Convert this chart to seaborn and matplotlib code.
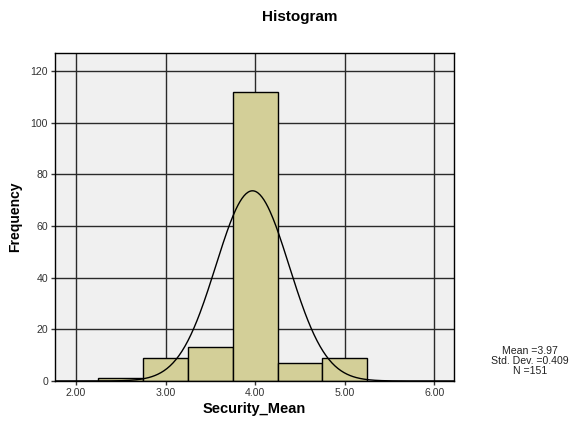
import numpy as np
import pandas as pd
import matplotlib
matplotlib.use("Agg")
import matplotlib.pyplot as plt
import seaborn as sns

# Binned frequencies of Security_Mean
bin_edges = [2.25, 2.75, 3.25, 3.75, 4.25, 4.75, 5.25]
bin_centers = [2.5, 3.0, 3.5, 4.0, 4.5, 5.0]
counts = [1, 9, 13, 112, 7, 9]
x_ticks = [2.0, 3.0, 4.0, 5.0, 6.0]
x_tick_labels = ["2.00", "3.00", "4.00", "5.00", "6.00"]
y_ticks = [0, 20, 40, 60, 80, 100, 120]
mean_val = 3.97
std_val = 0.409
n_val = 151

sns.set_theme(style="white")
plt.rcParams["font.family"] = ["Liberation Sans", "DejaVu Sans"]
plt.rcParams["text.color"] = "black"
plt.rcParams["axes.labelcolor"] = "black"

fig = plt.figure(figsize=(5.71, 4.21), dpi=100)
ax = fig.add_axes([55 / 571, 1 - 381 / 421, (454 - 55) / 571, (381 - 53) / 421])
ax.set_facecolor("#F0F0F0")

df = pd.DataFrame({"value": bin_centers, "count": counts})
sns.histplot(data=df, x="value", weights="count", bins=bin_edges, ax=ax,
             color="#D3CF98", edgecolor="black", linewidth=1.0, alpha=1,
             zorder=3)

# Normal curve scaled to the histogram
xs = np.linspace(1.765, 6.22, 400)
bw = bin_edges[1] - bin_edges[0]
ys = n_val * bw / (std_val * np.sqrt(2 * np.pi)) * np.exp(-0.5 * ((xs - mean_val) / std_val) ** 2)
sns.lineplot(x=xs, y=ys, ax=ax, color="black", linewidth=1.0, zorder=4)

ax.set_xlim(1.765, 6.22)
ax.set_ylim(0, 127)
ax.set_xticks(x_ticks)
ax.set_xticklabels(x_tick_labels)
ax.set_yticks(y_ticks)
ax.grid(True, color="#2a2a2a", linewidth=1.0, zorder=1)
ax.set_axisbelow(True)
for s in ax.spines.values():
    s.set_color("black")
    s.set_linewidth(1.0)
    s.set_zorder(5)
ax.tick_params(axis="both", which="both", direction="out", length=3, width=1,
               color="#333333", labelsize=7.6, labelcolor="#333333", pad=2,
               left=True, bottom=True)

ax.set_xlabel("Security_Mean", fontsize=10.5, fontweight="bold", labelpad=3)
ax.set_ylabel("Frequency", fontsize=10, fontweight="bold", labelpad=6)

fig.text(300 / 571, 1 - 17 / 421, "Histogram", ha="center", va="center",
         fontsize=11, fontweight="bold")
fig.text(530 / 571, 1 - 361 / 421,
         f"Mean ={mean_val:.2f}\nStd. Dev. ={std_val:.3f}\nN ={n_val}",
         ha="center", va="center", fontsize=7.6, linespacing=0.95,
         color="#222222")

fig.savefig("out.png", dpi=100)
